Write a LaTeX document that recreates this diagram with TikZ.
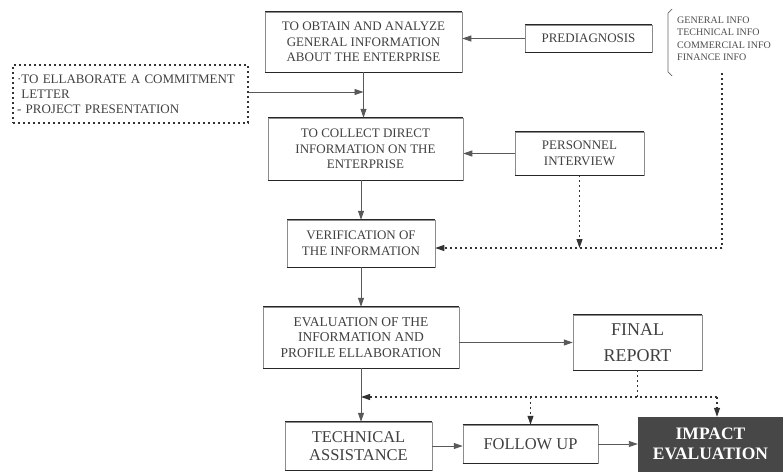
\documentclass[tikz,border=0pt]{standalone}
\usepackage{fontspec}
\setmainfont{Liberation Serif}
\usetikzlibrary{arrows.meta}
\begin{document}
\begin{tikzpicture}[x=1pt,y=-1pt,
  box/.style={draw=black!45, line width=0.5pt, align=center, inner sep=2pt, text=black!75,
              font=\fontsize{13}{15.5}\selectfont},
  dbox/.style={draw=black!80, line width=1.1pt, dash pattern=on 2pt off 3pt, align=left,
              text=black!75, font=\fontsize{13}{15}\selectfont},
  arr/.style={draw=black!65, line width=0.9pt, -{Triangle[length=9pt,width=6pt]}},
  dot/.style={draw=black!80, line width=1.1pt, dash pattern=on 2pt off 3pt},
  darr/.style={dot, -{Triangle[length=9pt,width=6pt]}},
]
\useasboundingbox (0,0) rectangle (783,471);

% boxes
\node[box, minimum width=197, minimum height=60] (b1) at (363.5,42)
  {TO OBTAIN AND ANALYZE\\GENERAL INFORMATION\\ABOUT THE ENTERPRISE};
\node[box, minimum width=127, minimum height=27] (pre) at (588.5,38.5) {PREDIAGNOSIS};
\node[anchor=west, align=left, inner sep=0, text=black!70,
      font=\fontsize{10}{12.5}\selectfont] (lst) at (677,38.5)
  {GENERAL INFO\\TECHNICAL INFO\\COMMERCIAL INFO\\FINANCE INFO};
\draw[black!60, line width=0.7pt] (672,9) -- (668,13) -- (668,72) -- (672,76);
\node[dbox, minimum width=235, minimum height=58, text width=227, inner sep=3pt] (db) at (130.5,94)
  {{\textperiodcentered}TO ELLABORATE A COMMITMENT\\\phantom{\textperiodcentered}LETTER\\- PROJECT PRESENTATION};
\node[box, minimum width=195, minimum height=62] (b2) at (365.5,149)
  {TO COLLECT DIRECT\\INFORMATION ON THE\\ENTERPRISE};
\node[box, minimum width=129, minimum height=43] (pers) at (579.5,153.5)
  {PERSONNEL\\INTERVIEW};
\node[box, minimum width=148, minimum height=47] (ver) at (361,243.5)
  {VERIFICATION OF\\THE INFORMATION};
\node[box, minimum width=196, minimum height=61, font=\fontsize{13.5}{15.5}\selectfont] (ev) at (361,337.5)
  {EVALUATION OF THE\\INFORMATION AND\\PROFILE ELLABORATION};
\node[box, minimum width=129, minimum height=55, font=\fontsize{18}{26}\selectfont] (fin) at (637.5,342.5)
  {FINAL\\REPORT};
\node[box, minimum width=147, minimum height=48, font=\fontsize{16.5}{18.5}\selectfont] (tech) at (358.5,446)
  {TECHNICAL\\ASSISTANCE};
\node[box, minimum width=135, minimum height=38, font=\fontsize{16.5}{18}\selectfont] (fu) at (530.5,444)
  {FOLLOW UP};
\node[fill=black!72, draw=black!72, minimum width=145, minimum height=54, align=center, text=white,
      inner sep=1pt, font=\bfseries\fontsize{17.5}{20}\selectfont] (imp) at (710.5,444)
  {IMPACT\\EVALUATION};

% darker top and bottom edges
\foreach \n in {b1,pre,b2,pers,ver,ev,fin,tech,fu}
  \draw[line width=1.1pt, black!85] (\n.north west) -- (\n.north east)
                                      (\n.south west) -- (\n.south east);

% solid connectors
\coordinate (m1) at (363.5,92);
\draw[arr] (b1.south) -- (b1.south |- b2.north);
\draw[arr] (db.east |- m1) -- (m1);
\draw[arr] (pre.west) -- (pre.west -| b1.east);
\draw[arr] (pers.west) -- (pers.west -| b2.east);
\draw[arr] (ver.north |- b2.south) -- (ver.north);
\draw[arr] (ver.south) -- (ver.south |- ev.north);
\draw[arr] (ev.east |- fin.west) -- (fin.west);
\draw[arr] (ev.south) -- (ev.south |- tech.north);
\draw[arr] (tech.east) -- (tech.east -| fu.west);
\draw[arr] (fu.east) -- (fu.east -| imp.west);

% dotted connectors
\coordinate (c1) at (722,73);
\coordinate (c2) at (722,248);
\draw[dot] (c1) -- (c2);
\draw[darr] (c2) -- (c2 -| ver.east);
\draw[darr] (pers.south) -- (pers.south |- c2);
\coordinate (jr) at (717,397);
\coordinate (jl) at (ev.south |- jr);
\draw[dot] (fin.south) -- (fin.south |- jr);
\draw[darr] (jr) -- (jl);
\draw[darr] (jr) -- (jr |- imp.north);
\draw[darr] (fu.north |- jr) -- (fu.north);
\end{tikzpicture}
\end{document}
